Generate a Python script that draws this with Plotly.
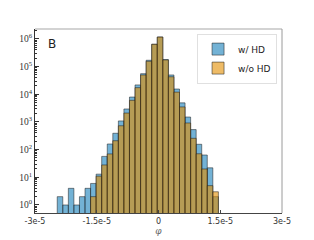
import plotly.graph_objects as go

# ---- data ----
bin_start = -24.6e-6
bin_width = 1.35e-6
counts_with_hd = [2, 1, 4, 1, 2, 4, 6, 13, 57, 160, 390, 1090, 2950, 7950, 21800,
                  55600, 170000, 645000, 1180000, 180000, 50000, 15500, 4900, 1510,
                  530, 156, 64, 22, 2]
counts_without_hd = [None, None, None, None, None, None, 2, 11, 28, 70, 210, 730, 2100,
                     6050, 17400, 50000, 156000, 640000, 1170000, 175000, 43000, 12000,
                     3500, 920, 257, 71, 20, 5, 3]
x_tick_vals = [-3e-5, -1.5e-5, 0, 1.5e-5, 3e-5]
x_tick_text = ["-3e-5", "-1.5e-5", "0", "1.5e-5", "3e-5"]
y_tick_vals = [1, 10, 100, 1e3, 1e4, 1e5, 1e6]
y_tick_text = ["10<sup>%d</sup>" % i for i in range(7)]

centers = [bin_start + (i + 0.5) * bin_width for i in range(len(counts_with_hd))]

blue = "rgba(0,114,178,0.55)"
orange = "rgba(227,142,0,0.6)"
edge = dict(color="rgba(30,30,30,0.75)", width=0.7)

fig = go.Figure()
fig.add_trace(go.Bar(x=centers, y=counts_with_hd, width=bin_width, name="w/ HD",
                     marker=dict(color=blue, line=edge)))
fig.add_trace(go.Bar(x=centers, y=counts_without_hd, width=bin_width, name="w/o HD",
                     marker=dict(color=orange, line=edge)))

fig.update_layout(
    width=314, height=240,
    margin=dict(l=35, r=32, t=29, b=27),
    barmode="overlay",
    plot_bgcolor="white", paper_bgcolor="white",
    font=dict(family="DejaVu Sans", size=9, color="#333"),
    showlegend=True,
    legend=dict(x=0.98, y=0.975, xanchor="right", yanchor="top",
                bgcolor="rgba(255,255,255,0.85)", bordercolor="#e0e0e0", borderwidth=1,
                font=dict(size=9, family="DejaVu Sans", color="#222"),
                itemwidth=30, tracegroupgap=0),
    xaxis=dict(range=[-3e-5, 3e-5], tickvals=x_tick_vals, ticktext=x_tick_text,
               automargin=False,
               showgrid=False, zeroline=False, showline=True, linecolor="#444",
               linewidth=1, ticks="inside", ticklen=3, tickcolor="#444",
               tickfont=dict(family="DejaVu Sans", size=8, color="#333"),
               title=dict(text="<i>φ</i>", standoff=2,
                          font=dict(family="DejaVu Serif", size=9, color="#666"))),
    yaxis=dict(type="log", range=[-0.29, 6.36], tickvals=y_tick_vals,
               ticktext=y_tick_text, automargin=False,
               showgrid=False, zeroline=False, showline=True,
               linecolor="#333", linewidth=1, ticks="inside", ticklen=4,
               tickcolor="#333",
               tickfont=dict(family="Liberation Serif", size=9.5, color="#333"),
               minor=dict(ticks="inside", ticklen=2, tickcolor="#333", dtick="D1",
                          showgrid=False)),
)

# light top/right frame lines
fig.add_shape(type="line", xref="paper", yref="paper", x0=0, x1=1, y0=1, y1=1,
              line=dict(color="#c4c4c4", width=1.6))
fig.add_shape(type="line", xref="paper", yref="paper", x0=1, x1=1, y0=0, y1=1,
              line=dict(color="#9a9a9a", width=1))

fig.add_annotation(text="B", xref="paper", yref="paper", x=0.045, y=0.97,
                   xanchor="left", yanchor="top", showarrow=False,
                   font=dict(family="DejaVu Sans", size=12, color="#222"))

fig.write_html("out.html", config={"displayModeBar": False},
               post_script="document.body.style.margin='0';")
